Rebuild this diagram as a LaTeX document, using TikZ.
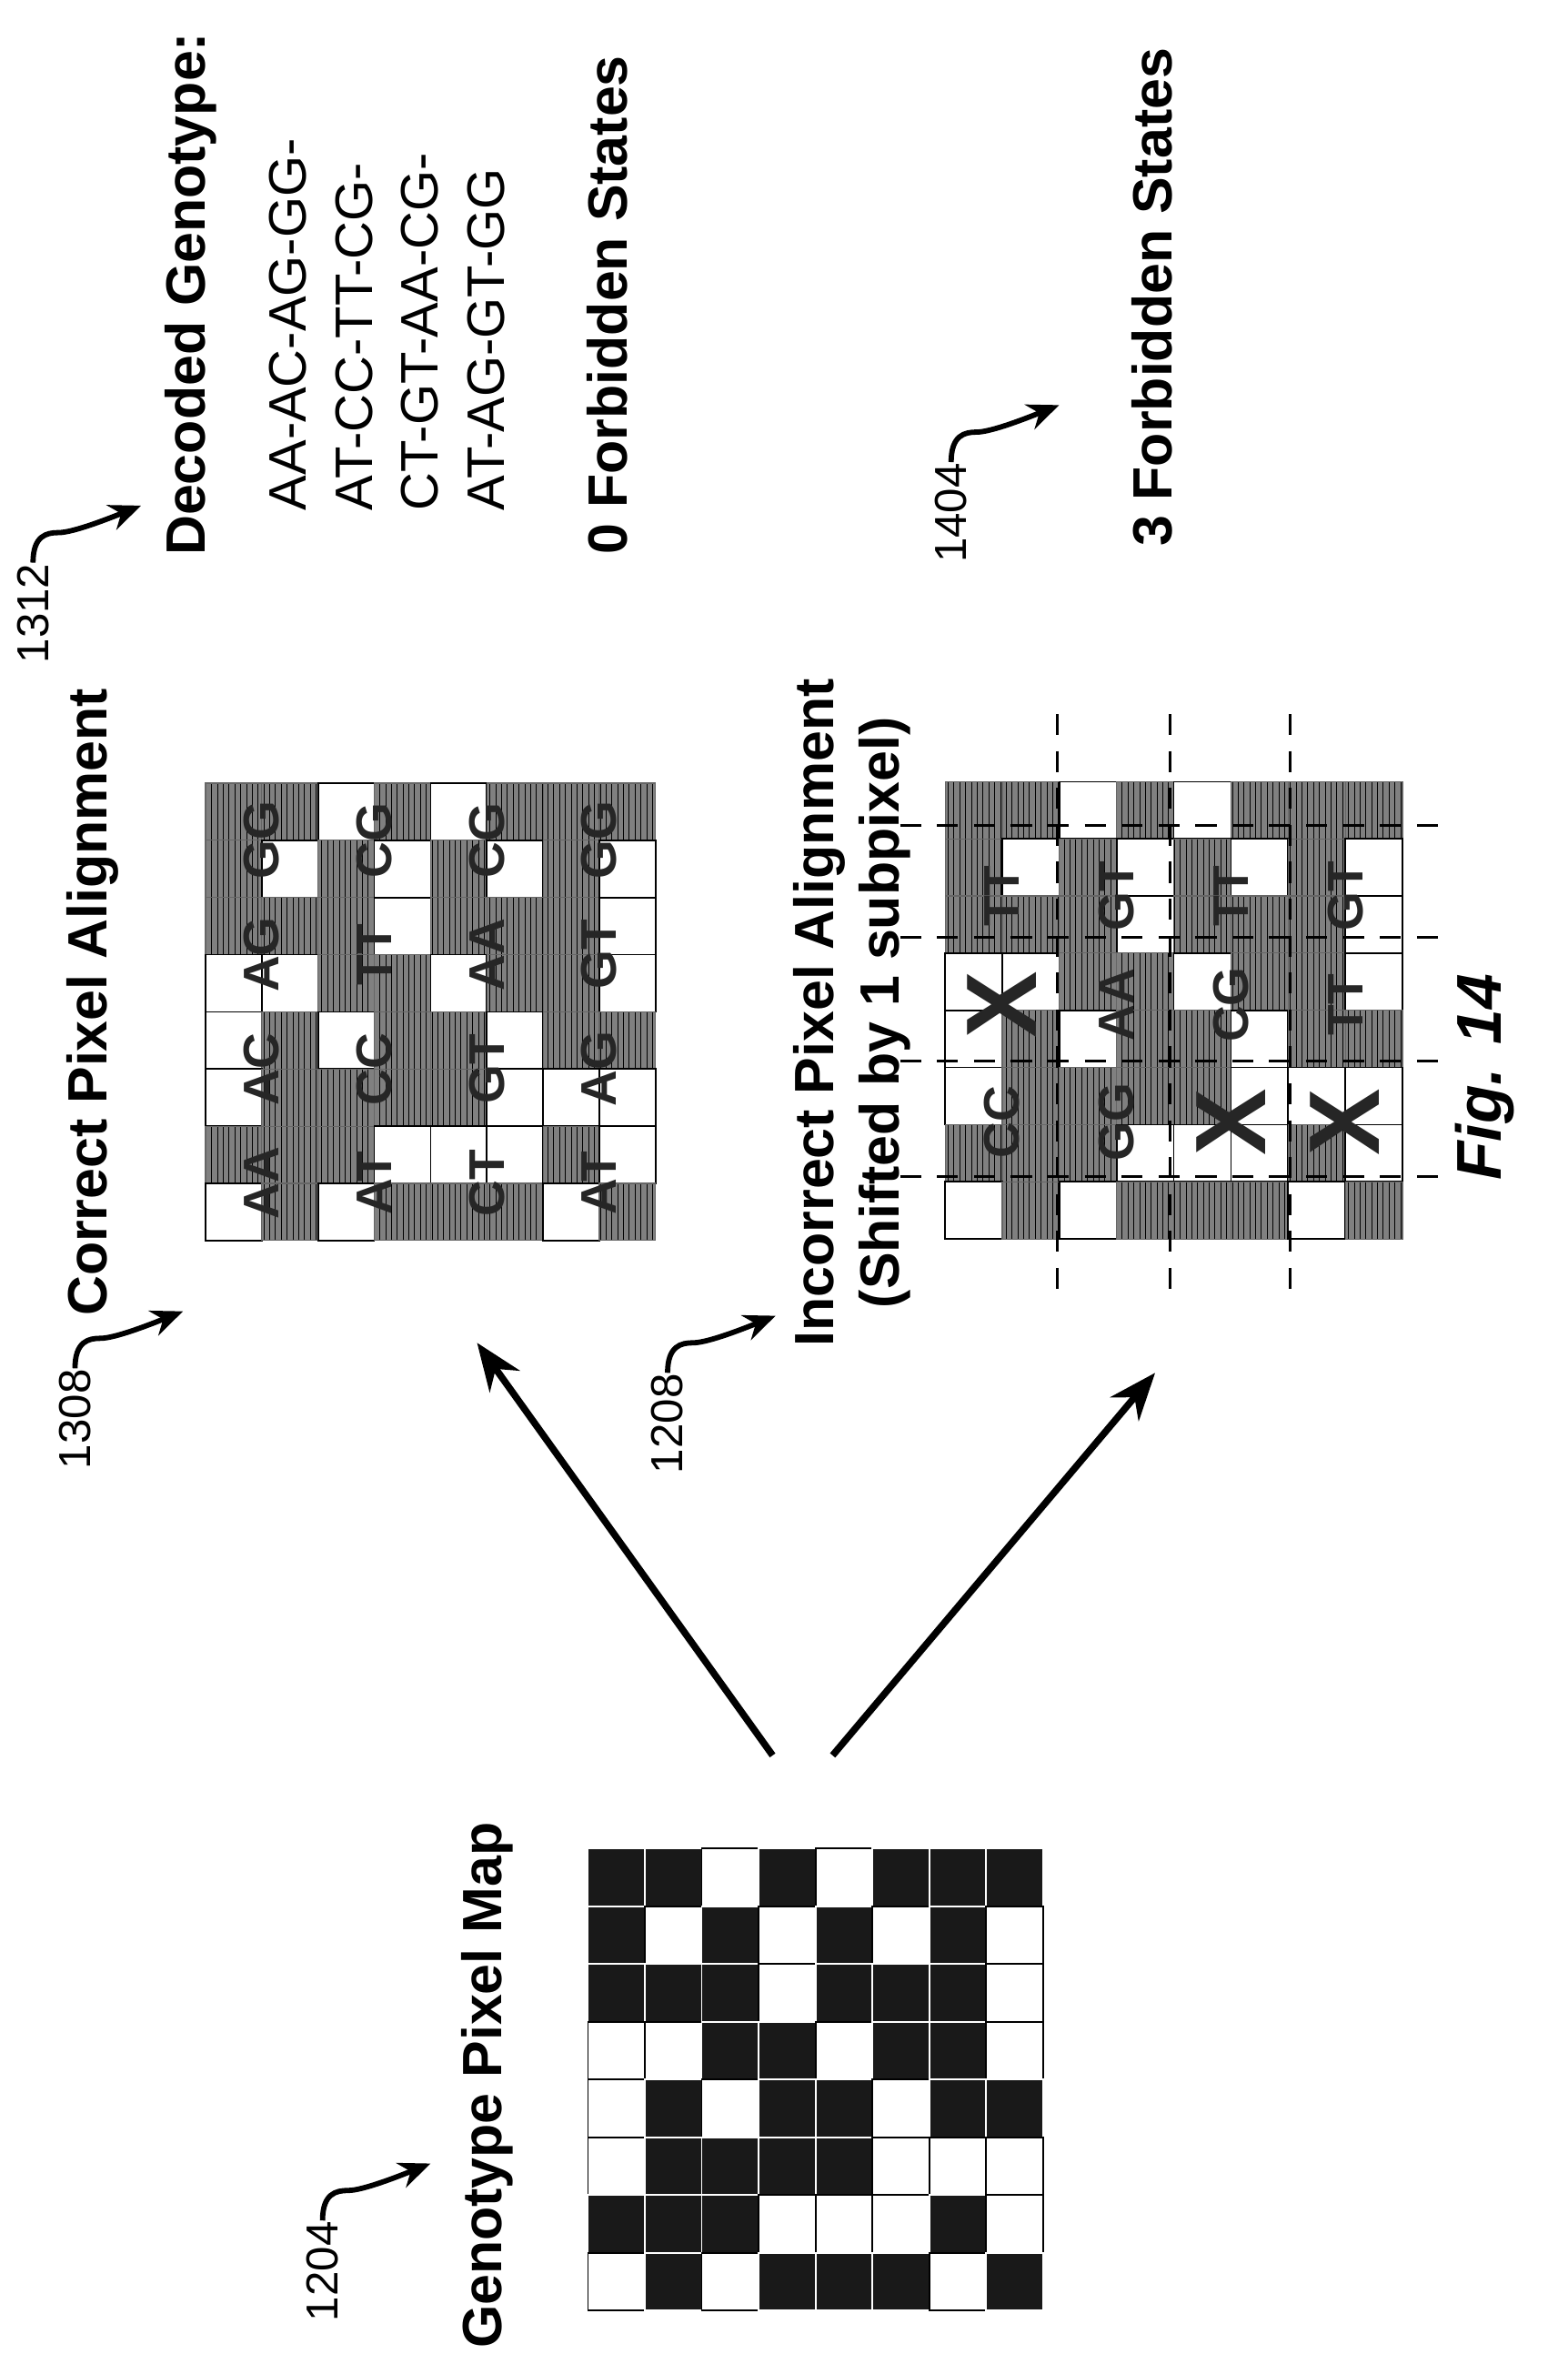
\documentclass[tikz,border=0pt]{standalone}
\usepackage{fontspec}
\setmainfont{Liberation Sans}
\usetikzlibrary{arrows.meta,patterns.meta}

\tikzdeclarepattern{name=vlines,type=uncolored,
  bottom left={(-.1pt,-.1pt)},top right={(1.2pt,1.2pt)},tile size={(1.1pt,1.1pt)},
  line width=.75pt,code={\draw (.55pt,-.1pt) -- (.55pt,1.2pt);}}

% 8x8 genotype pixel map, rows from the top
\newcommand{\pixrows}{{1,1,0,1,0,1,1,1},{1,0,1,0,1,0,1,0},{1,1,1,0,1,1,1,0},{0,0,1,1,0,1,1,0},{0,1,0,1,1,0,1,1},{0,1,1,1,1,0,0,0},{1,1,1,0,0,0,1,0},{0,1,0,1,1,1,0,1}}
\newcommand{\pixgrid}[1]{%
  \foreach \row [count=\r] in \pixrows {%
    \foreach \c [count=\k] in \row {%
      \ifnum\c=1 \path[#1] (\k-1,\r-1) rectangle (\k,\r);
      \else \draw[cellw] (\k-1,\r-1) rectangle (\k,\r); \fi}}}

\tikzset{
  lbl/.style={rotate=90, inner sep=0pt},
  head/.style={lbl, font=\fontsize{10.5}{12}\selectfont\bfseries},
  refnum/.style={lbl, anchor=east, font=\fontsize{8.5}{10}\selectfont},
  gtxt/.style={lbl, anchor=west, font=\fontsize{10}{12}\selectfont},
  pair/.style={lbl, font=\fontsize{9.5}{11}\selectfont\bfseries, text=black!85},
  bigx/.style={lbl, font=\fontsize{19}{20}\selectfont\bfseries, text=black!85},
  cellw/.style={draw=black, line width=.3pt, fill=white},
  celld/.style={fill=black!90, draw=white, line width=.3pt},
  cellh/.style={preaction={fill=black!50}, pattern=vlines, draw=black!60, line width=.2pt},
  squig/.style={line width=1pt, -{Stealth[length=6pt,width=5pt]}},
  bigarrow/.style={line width=1.3pt, -{Stealth[length=9pt,width=7pt]}},
  cut/.style={dashed, line width=.5pt, dash pattern=on 4pt off 3pt}
}

\begin{document}
\begin{tikzpicture}[x=0.1mm,y=-0.1mm]
\useasboundingbox (0,0) rectangle (1045,1569);

% genotype pixel map
\begin{scope}[shift={(392,1232)},x=3.79mm,y=-3.85mm]
  \pixgrid{celld}
\end{scope}
\node[head] (mapname) at (325,1390) {Genotype Pixel Map};
\node[refnum] (n1204) at (215,1480) {1204};
\draw[squig] (n1204.east) .. controls +(0,-18) and +(-8,0) .. ++(17,-20) .. controls +(10,0) and +(-20,8) .. ++(55,-18);

% correct alignment
\begin{scope}[shift={(137,522)},x=3.75mm,y=-3.81mm]
  \pixgrid{cellh}
  \foreach \b/\p/\q/\s/\t in {0/AA/AC/AG/GG,1/AT/CC/TT/CG,2/CT/GT/AA/CG,3/AT/AG/GT/GG}{
    \node[pair] (c\b a) at (2*\b+1,7) {\p};
    \node[pair] (c\b b) at (2*\b+1,5) {\q};
    \node[pair] (c\b c) at (2*\b+1,3) {\s};
    \node[pair] (c\b d) at (2*\b+1,1) {\t};}
\end{scope}
\node[head] (corname) at (62,668) {Correct Pixel Alignment};
\node[refnum] (n1308) at (50,912) {1308};
\draw[squig] (n1308.east) .. controls +(0,-18) and +(-8,0) .. ++(17,-20) .. controls +(10,0) and +(-20,8) .. ++(55,-18);

% incorrect alignment
\begin{scope}[shift={(630,521)},x=3.81mm,y=-3.81mm]
  \pixgrid{cellh}
  \foreach \b/\p/\q/\s in {0/CC/X/TT,1/GG/AA/GT,2/X/CG/TT,3/X/TT/GT}{
    \if X\p \node[bigx] (i\b a) at (2*\b+1,5.95) {X};
    \else \node[pair] (i\b a) at (2*\b+1,5.95) {\p}; \fi
    \if X\q \node[bigx] (i\b b) at (2*\b+1,3.9) {X};
    \else \node[pair] (i\b b) at (2*\b+1,3.9) {\q}; \fi
    \node[pair] (i\b c) at (2*\b+1,2) {\s};}
\end{scope}
\foreach \xx in {705,780,860} \draw[cut] (\xx,476) -- (\xx,868);
\foreach \yy in {550,625,707,784} \draw[cut] (600,\yy) -- (965,\yy);
\node[head] (incname) at (546,675) {Incorrect Pixel Alignment};
\node[head] (shiftname) at (590,675) {(Shifted by 1 subpixel)};
\node[refnum] (n1208) at (445,915) {1208};
\draw[squig] (n1208.east) .. controls +(0,-18) and +(-8,0) .. ++(17,-20) .. controls +(10,0) and +(-20,8) .. ++(55,-18);

% decoded genotype
\node[lbl, anchor=west, font=\fontsize{10.5}{12}\selectfont\bfseries] (decname) at (127,371) {Decoded Genotype:};
\node[gtxt] (g1) at (192,341) {AA-AC-AG-GG-};
\node[gtxt] (g2) at (236,341) {AT-CC-TT-CG-};
\node[gtxt] (g3) at (280,341) {CT-GT-AA-CG-};
\node[gtxt] (g4) at (324,341) {AT-AG-GT-GG};
\node[lbl, anchor=west, font=\fontsize{10.5}{12}\selectfont\bfseries] (zero) at (405,370) {0 Forbidden States};
\node[refnum] (n1312) at (22,375) {1312};
\draw[squig] (n1312.east) .. controls +(0,-18) and +(-8,0) .. ++(17,-20) .. controls +(10,0) and +(-20,8) .. ++(55,-18);

\node[lbl, anchor=west, font=\fontsize{10.5}{12}\selectfont\bfseries] (three) at (768,365) {3 Forbidden States};
\node[refnum] (n1404) at (634,308) {1404};
\draw[squig] (n1404.east) .. controls +(0,-18) and +(-8,0) .. ++(17,-20) .. controls +(10,0) and +(-20,8) .. ++(55,-18);

% arrows from the map
\coordinate (mapL) at (515,1170);
\coordinate (mapR) at (555,1170);
\coordinate (corin) at (318,895);
\coordinate (incin) at (770,915);
\draw[bigarrow] (mapL) -- (corin);
\draw[bigarrow] (mapR) -- (incin);

\node[lbl, font=\fontsize{12}{14}\selectfont\bfseries\itshape] (fig) at (990,718) {Fig. 14};
\end{tikzpicture}
\end{document}
